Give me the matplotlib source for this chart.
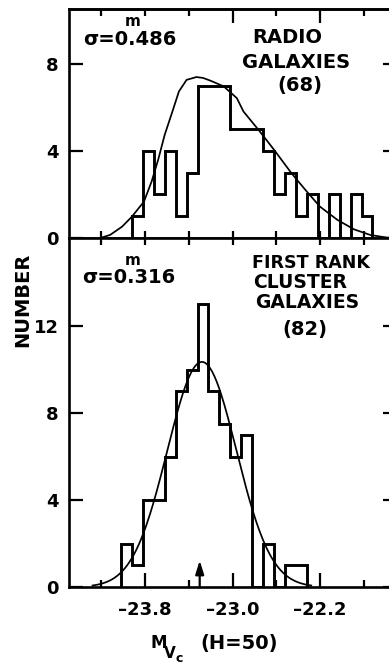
import numpy as np
import matplotlib
matplotlib.use("Agg")
import matplotlib.pyplot as plt

# ---- data -------------------------------------------------------------
bin_width = 0.1

# Radio galaxies (68): counts per 0.1 mag bin, first bin edge below
radio_bin_start = -23.92
radio_counts = [1, 4, 2, 4, 1, 3, 7, 7, 7, 5, 5, 5, 4, 2, 3, 1, 2, 0, 2, 0, 2, 1]

# Fitted curve for the radio galaxies (magnitude, number per bin)
radio_fit_mag = [-24.21, -24.12, -24.01, -23.92, -23.81, -23.74, -23.68, -23.62,
                 -23.55, -23.49, -23.42, -23.33, -23.27, -23.20, -23.08, -22.96,
                 -22.90, -22.75, -22.62, -22.46, -22.32, -22.20, -22.04, -21.89,
                 -21.74, -21.59, -21.50]
radio_fit_num = [0.00, 0.14, 0.52, 0.98, 1.67, 2.59, 3.59, 4.74,
                 5.80, 6.73, 7.26, 7.39, 7.35, 7.22, 6.96, 6.42,
                 5.81, 4.89, 4.05, 2.97, 2.13, 1.44, 0.83, 0.40,
                 0.14, 0.02, 0.00]

# First-rank cluster galaxies (82)
cluster_bin_start = -24.02
cluster_counts = [2, 1, 4, 4, 6, 9, 10, 13, 9, 7.5, 6, 7, 0, 2, 0, 1, 1]
cluster_total = 82
cluster_mean = -23.28
cluster_sigma = 0.316
cluster_arrow_mag = -23.30

x_major = [-23.8, -23.0, -22.2]
x_major_labels = ["\u201323.8", "\u201323.0", "\u201322.2"]
x_minor = [-24.2, -23.4, -22.6, -21.8]
top_yticks = [0, 4, 8]
bot_yticks = [0, 4, 8, 12]

# ---- figure -----------------------------------------------------------
W, H = 389, 667
fig = plt.figure(figsize=(W / 100, H / 100), dpi=100)
plt.rcParams['font.family'] = ['DejaVu Sans']

def px_rect(x0, y0, x1, y1):
    return [x0 / W, 1 - y1 / H, (x1 - x0) / W, (y1 - y0) / H]

def ptext(x, y, s, size=14, **kw):
    fig.text(x / W, 1 - y / H, s, fontsize=size, fontweight='bold',
             ha=kw.pop('ha', 'left'), va=kw.pop('va', 'baseline'), **kw)

ax_top = fig.add_axes(px_rect(68.5, 9.3, 396.5, 238))
ax_bot = fig.add_axes(px_rect(68.5, 238, 396.5, 587))

LW_HIST = 2.1
LW_FIT = 1.25
LW_AX = 1.9

for ax in (ax_top, ax_bot):
    ax.set_xlim(-24.5, -21.5)
    for sp in ax.spines.values():
        sp.set_linewidth(LW_AX)
    ax.tick_params(axis='y', which='major', direction='in', length=10,
                   width=1.6, left=True, right=True, labelsize=13, pad=7)

# top panel: radio galaxies
top_edges = radio_bin_start + bin_width * np.arange(len(radio_counts) + 1)
ax_top.stairs(radio_counts, top_edges, baseline=0, color='black',
              linewidth=LW_HIST)
ax_top.plot(radio_fit_mag, radio_fit_num, color='black', linewidth=LW_FIT,
            solid_joinstyle='round')
ax_top.set_ylim(0, 10.5)
ax_top.set_yticks(top_yticks)
ax_top.set_yticklabels([str(v) for v in top_yticks], fontweight='bold')
ax_top.set_xticks(x_major)
ax_top.set_xticks(x_minor, minor=True)
ax_top.tick_params(axis='x', which='both', direction='in', length=5,
                   width=1.6, bottom=True, top=False, labelbottom=False)
sec_top = ax_top.secondary_xaxis('top')
sec_top.set_xticks([-23.0, -22.2])
sec_top.set_xticks([-24.2, -23.8, -23.4, -22.6, -21.8], minor=True)
sec_top.tick_params(axis='x', which='major', direction='in', length=10,
                    width=1.6, labeltop=False)
sec_top.tick_params(axis='x', which='minor', direction='in', length=5,
                    width=1.6)
sec_top.spines['top'].set_linewidth(LW_AX)

# bottom panel: first-rank cluster galaxies
bot_edges = cluster_bin_start + bin_width * np.arange(len(cluster_counts) + 1)
ax_bot.stairs(cluster_counts, bot_edges, baseline=0, color='black',
              linewidth=LW_HIST)
fit_m = np.linspace(cluster_mean - 1.0, cluster_mean + 1.0, 200)
fit_n = (cluster_total * bin_width / (cluster_sigma * np.sqrt(2 * np.pi))
         * np.exp(-0.5 * ((fit_m - cluster_mean) / cluster_sigma) ** 2))
ax_bot.plot(fit_m, fit_n, color='black', linewidth=LW_FIT)
ax_bot.annotate('', xy=(cluster_arrow_mag, 1.22), xytext=(cluster_arrow_mag, 0),
                arrowprops=dict(arrowstyle='-|>,head_length=0.8,head_width=0.25',
                                color='black', lw=1.6, mutation_scale=10,
                                shrinkA=0, shrinkB=0))
ax_bot.set_ylim(0, 16.05)
ax_bot.set_yticks(bot_yticks)
ax_bot.set_yticklabels([str(v) for v in bot_yticks], fontweight='bold')
ax_bot.set_xticks(x_major)
ax_bot.set_xticklabels(x_major_labels, fontweight='bold', fontsize=13)
ax_bot.set_xticks(x_minor, minor=True)
ax_bot.tick_params(axis='x', which='major', direction='in', length=10,
                   width=1.6, top=False, pad=10)
ax_bot.tick_params(axis='x', which='minor', direction='in', length=5,
                   width=1.6, top=False)
sec_bot = ax_bot.secondary_xaxis('top')
sec_bot.set_xticks(x_major + x_minor)
sec_bot.tick_params(axis='x', which='major', direction='in', length=5,
                    width=1.6, labeltop=False)

# annotations
ptext(83, 45, "\u03c3=0.486", size=14)
ptext(125, 26, "m", size=11)
ptext(252, 43, "RADIO", size=14)
ptext(242, 68, "GALAXIES", size=14)
ptext(277, 91, "(68)", size=14)

ptext(82, 283, "\u03c3=0.316", size=14)
ptext(125, 265, "m", size=11)
ptext(252, 268, "FIRST RANK", size=12.6)
ptext(253, 288, "CLUSTER", size=13.5)
ptext(255, 308, "GALAXIES", size=13.5)
ptext(282, 335, "(82)", size=14)

ptext(23, 300, "NUMBER", size=14, rotation=90, ha='center', va='center')

ptext(150, 648, "M", size=12)
ptext(164, 658, "V", size=11)
ptext(176, 662, "c", size=9)
ptext(200, 649, "(H=50)", size=14)

fig.savefig("out.png", dpi=100)
